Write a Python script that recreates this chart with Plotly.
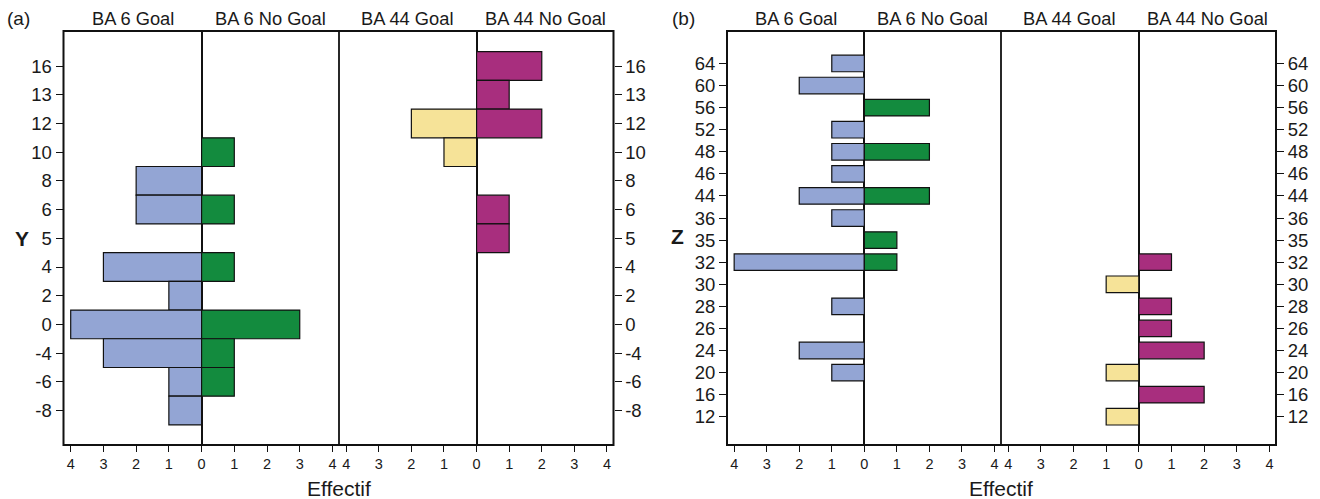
import plotly.graph_objects as go

# ---------------- data ----------------
# Panel (a): Y categories (top to bottom)
cats_a = ["16", "13", "12", "10", "8", "6", "5", "4", "2", "0", "-4", "-6", "-8"]
a_ba6_goal = [0, 0, 0, 0, 2, 2, 0, 3, 1, 4, 3, 1, 1]
a_ba6_nogoal = [0, 0, 0, 1, 0, 1, 0, 1, 0, 3, 1, 1, 0]
a_ba44_goal = [0, 0, 2, 1, 0, 0, 0, 0, 0, 0, 0, 0, 0]
a_ba44_nogoal = [2, 1, 2, 0, 0, 1, 1, 0, 0, 0, 0, 0, 0]

# Panel (b): Z categories (top to bottom)
cats_b = ["64", "60", "56", "52", "48", "46", "44", "36", "35", "32", "30",
          "28", "26", "24", "20", "16", "12"]
b_ba6_goal = [1, 2, 0, 1, 1, 1, 2, 1, 0, 4, 0, 1, 0, 2, 1, 0, 0]
b_ba6_nogoal = [0, 0, 2, 0, 2, 0, 2, 0, 1, 1, 0, 0, 0, 0, 0, 0, 0]
b_ba44_goal = [0, 0, 0, 0, 0, 0, 0, 0, 0, 0, 1, 0, 0, 0, 1, 0, 1]
b_ba44_nogoal = [0, 0, 0, 0, 0, 0, 0, 0, 0, 1, 0, 1, 1, 2, 0, 2, 0]

x_ticks = [-4, -3, -2, -1, 0, 1, 2, 3, 4]
x_ticktext = ["4", "3", "2", "1", "0", "1", "2", "3", "4"]
strip_labels = ["BA 6 Goal", "BA 6 No Goal", "BA 44 Goal", "BA 44 No Goal"]

# ---------------- style ----------------
C_GOAL6 = "#93a5d4"
C_NOGOAL6 = "#138b3e"
C_GOAL44 = "#f6e398"
C_NOGOAL44 = "#a82e7e"
FONT = "Liberation Sans"
TXT = "#1a1a1a"
W, H = 1320, 499


def px(x):
    return x / W


def py(y):
    return 1 - y / H


# panel geometry (pixels)
panels = {
    "a": dict(l=63.5, m=339.0, r=613.5, t=31.0, b=445.0, pad_top=1.22, pad_bot=1.2),
    "b": dict(l=727.0, m=1001.0, r=1276.0, t=31.0, b=445.0, pad_top=1.47, pad_bot=1.28),
}
XR = [-4.22, 4.2]

fig = go.Figure()


def bars(vals, cats, xa, ya, color, sign, width):
    ys = [i for i, v in enumerate(vals) if v]
    xs = [sign * v for v in vals if v]
    fig.add_trace(go.Bar(
        x=xs, y=ys, orientation="h", xaxis=xa, yaxis=ya, width=width,
        marker=dict(color=color, line=dict(color="#111111", width=1.2)),
        showlegend=False, hoverinfo="x+y"))


specs = [
    ("a", cats_a, a_ba6_goal, a_ba6_nogoal, a_ba44_goal, a_ba44_nogoal, 1.0, 1),
    ("b", cats_b, b_ba6_goal, b_ba6_nogoal, b_ba44_goal, b_ba44_nogoal, 0.75, 3),
]

layout = dict(
    width=W, height=H, margin=dict(l=0, r=0, t=0, b=0),
    paper_bgcolor="white", plot_bgcolor="white",
    barmode="overlay", font=dict(family=FONT, color=TXT),
)
shapes = []
annotations = []

for key, cats, g6, n6, g44, n44, bw, k in specs:
    p = panels[key]
    n = len(cats)
    xa1, xa2 = f"x{k if k > 1 else ''}", f"x{k + 1}"
    ya1, ya2 = f"y{k if k > 1 else ''}", f"y{k + 1}"
    bars(g6, cats, xa1, ya1, C_GOAL6, -1, bw)
    bars(n6, cats, xa1, ya1, C_NOGOAL6, 1, bw)
    bars(g44, cats, xa2, ya2, C_GOAL44, -1, bw)
    bars(n44, cats, xa2, ya2, C_NOGOAL44, 1, bw)

    ydom = [py(p["b"]), py(p["t"])]
    yrange = [n - 1 + p["pad_bot"], -p["pad_top"]]
    for j, (xa, ya, dom) in enumerate([
            (xa1, ya1, [px(p["l"]), px(p["m"])]),
            (xa2, ya2, [px(p["m"]), px(p["r"])])]):
        xname = "xaxis" + xa[1:]
        yname = "yaxis" + ya[1:]
        layout[xname] = dict(
            domain=dom, range=XR, anchor=ya, showgrid=False,
            zeroline=True, zerolinecolor="#111111", zerolinewidth=1.5,
            tickvals=x_ticks, ticktext=x_ticktext, ticks="outside",
            ticklen=6, tickwidth=1.3, tickcolor="#111111", showline=False,
            tickfont=dict(size=14.5, color=TXT, family=FONT), fixedrange=True)
        layout[yname] = dict(
            domain=ydom, range=yrange, anchor=xa, showgrid=False,
            zeroline=False, showline=False,
            tickvals=list(range(n)), ticktext=cats,
            ticks="outside", ticklen=7, tickwidth=1.3, tickcolor="#111111",
            side="left" if j == 0 else "right",
            showticklabels=True,
            tickfont=dict(size=18.5, color=TXT, family=FONT), fixedrange=True)
        # strip labels
        for h, xc in enumerate([(XR[0] + 0) / 2, (0 + XR[1]) / 2]):
            annotations.append(dict(
                text=strip_labels[2 * j + h], xref=xa, yref="paper",
                x=xc, y=py(18), xanchor="center", yanchor="middle",
                showarrow=False, font=dict(size=18.3, color=TXT, family=FONT)))

    # frame and separator
    shapes.append(dict(type="rect", xref="paper", yref="paper",
                       x0=px(p["l"]), x1=px(p["r"]), y0=py(p["b"]), y1=py(p["t"]),
                       line=dict(color="#111111", width=2), layer="above"))
    shapes.append(dict(type="line", xref="paper", yref="paper",
                       x0=px(p["m"]), x1=px(p["m"]), y0=py(p["b"]), y1=py(p["t"]),
                       line=dict(color="#111111", width=1.8), layer="above"))
    # x title
    annotations.append(dict(text="Effectif", xref="paper", yref="paper",
                            x=px(p["m"]), y=py(488), xanchor="center", yanchor="middle",
                            showarrow=False, font=dict(size=21, color=TXT, family=FONT)))

# panel letters and y titles
annotations.append(dict(text="(a)", xref="paper", yref="paper", x=px(18), y=py(18),
                        xanchor="center", yanchor="middle", showarrow=False,
                        font=dict(size=19, color=TXT, family=FONT)))
annotations.append(dict(text="(b)", xref="paper", yref="paper", x=px(683), y=py(18),
                        xanchor="center", yanchor="middle", showarrow=False,
                        font=dict(size=19, color=TXT, family=FONT)))
annotations.append(dict(text="<b>Y</b>", xref="paper", yref="paper", x=px(22), y=py(238),
                        xanchor="center", yanchor="middle", showarrow=False,
                        font=dict(size=21, color=TXT, family=FONT)))
annotations.append(dict(text="<b>Z</b>", xref="paper", yref="paper", x=px(677), y=py(236),
                        xanchor="center", yanchor="middle", showarrow=False,
                        font=dict(size=21, color=TXT, family=FONT)))

layout["shapes"] = shapes
layout["annotations"] = annotations
fig.update_layout(**layout)
fig.write_html(
    "out.html",
    config={"displayModeBar": False},
    post_script="document.body.style.margin='0px';document.body.style.overflow='hidden';",
)
